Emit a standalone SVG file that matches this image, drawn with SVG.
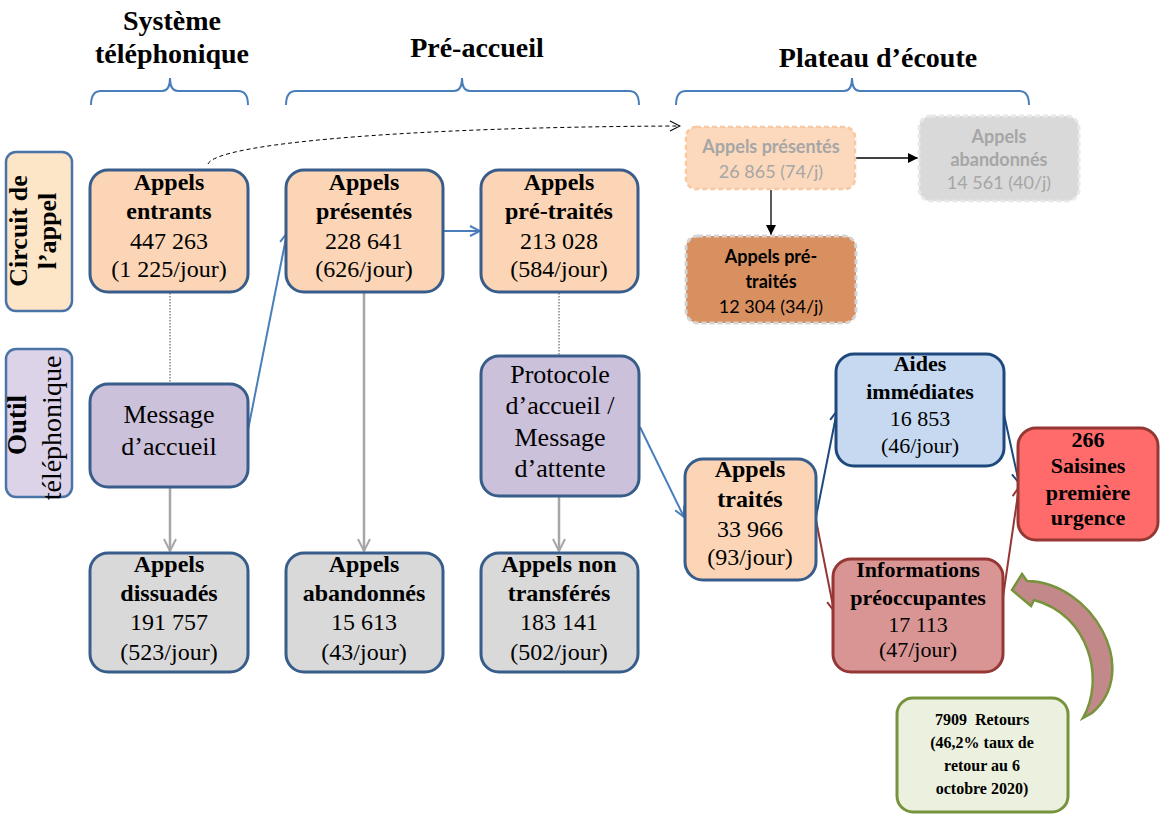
<svg xmlns="http://www.w3.org/2000/svg" width="1160" height="815" viewBox="0 0 1160 815">
<defs>
<style>
.t{font-family:"Liberation Serif","Times New Roman",serif;font-size:24px;text-anchor:middle;fill:#000}
.b{font-weight:bold}
.h{font-family:"Liberation Serif","Times New Roman",serif;font-size:28px;font-weight:bold;text-anchor:middle;fill:#000}
.s{font-family:"Lato","Liberation Sans",Arial,sans-serif;font-size:18px;text-anchor:middle}
.main{stroke:#385d8a;stroke-width:3}
.peach{fill:#fbd5b5}
.lav{fill:#ccc1da}
.gray{fill:#d9d9d9}
.brace{fill:none;stroke:#4a7ebb;stroke-width:2}
</style>
<marker id="aBlue" viewBox="0 0 12 12" refX="11" refY="6" markerWidth="12" markerHeight="12" orient="auto" markerUnits="userSpaceOnUse"><path d="M1,1 L11,6 L1,11" fill="none" stroke="#4a7ebb" stroke-width="2"/></marker>
<marker id="aDark" viewBox="0 0 12 12" refX="11" refY="6" markerWidth="12" markerHeight="12" orient="auto" markerUnits="userSpaceOnUse"><path d="M1,1 L11,6 L1,11" fill="none" stroke="#1f497d" stroke-width="2"/></marker>
<marker id="aRed" viewBox="0 0 12 12" refX="11" refY="6" markerWidth="12" markerHeight="12" orient="auto" markerUnits="userSpaceOnUse"><path d="M1,1 L11,6 L1,11" fill="none" stroke="#953735" stroke-width="2"/></marker>
<marker id="aGray" viewBox="0 0 14 14" refX="13" refY="7" markerWidth="14" markerHeight="14" orient="auto" markerUnits="userSpaceOnUse"><path d="M1,1 L13,7 L1,13" fill="none" stroke="#a6a6a6" stroke-width="2"/></marker>
<marker id="aOpen" viewBox="0 0 12 12" refX="11" refY="6" markerWidth="12" markerHeight="12" orient="auto" markerUnits="userSpaceOnUse"><path d="M1,1 L11,6 L1,11" fill="none" stroke="#000" stroke-width="1"/></marker>
<marker id="aFill" viewBox="0 0 10 10" refX="10" refY="5" markerWidth="10" markerHeight="10" orient="auto" markerUnits="userSpaceOnUse"><path d="M0,0 L10,5 L0,10 z" fill="#000"/></marker>
</defs>
<rect width="1160" height="815" fill="#fff"/>

<g id="headers">
<text class="h" x="172" y="30">Système</text>
<text class="h" x="172" y="63">téléphonique</text>
<path class="brace" d="M91,105 Q91,91 101,91 L162,91 Q170,91 170,78 Q170,91 178,91 L238,91 Q248,91 248,105"/>
<text class="h" x="477" y="57">Pré-accueil</text>
<path class="brace" d="M286,105 Q286,91 296,91 L454,91 Q462,91 462,78 Q462,91 470,91 L629,91 Q639,91 639,105"/>
<text class="h" x="878" y="67">Plateau d’écoute</text>
<path class="brace" d="M676,105 Q676,91 686,91 L844,91 Q852,91 852,78 Q852,91 860,91 L1019,91 Q1029,91 1029,105"/>
</g>

<g id="label-circuit">
<rect x="6" y="152" width="66" height="159" rx="10" fill="#fde5c8" stroke="#4a74a8" stroke-width="2.5"/>
<text class="t b" style="font-size:26px" transform="translate(27,231) rotate(-90)">Circuit de</text>
<text class="t b" style="font-size:26px" transform="translate(56,231) rotate(-90)">l’appel</text>
</g>
<g id="label-outil">
<rect x="6" y="349" width="66" height="148" rx="10" fill="#dcd3e8" stroke="#4a74a8" stroke-width="2.5"/>
<text class="t b" style="font-size:27px" transform="translate(26,425) rotate(-90)">Outil</text>
<text class="t" style="font-size:28px" transform="translate(61,428) rotate(-90)">téléphonique</text>
</g>

<g id="connectors">
<path d="M208,164 C216,144 400,127 680,126" fill="none" stroke="#000" stroke-width="1" stroke-dasharray="4 3" marker-end="url(#aOpen)"/>
<line x1="170" y1="293" x2="170" y2="384" stroke="#444" stroke-width="1" stroke-dasharray="1.5 1.5"/>
<line x1="559" y1="293" x2="559" y2="355" stroke="#444" stroke-width="1" stroke-dasharray="1.5 1.5"/>
<line x1="170" y1="488" x2="170" y2="551" stroke="#a6a6a6" stroke-width="2.5" marker-end="url(#aGray)"/>
<line x1="364" y1="293" x2="364" y2="551" stroke="#a6a6a6" stroke-width="2.5" marker-end="url(#aGray)"/>
<line x1="559" y1="497" x2="559" y2="551" stroke="#a6a6a6" stroke-width="2.5" marker-end="url(#aGray)"/>
<line x1="248" y1="430" x2="287" y2="233" stroke="#4a7ebb" stroke-width="2" marker-end="url(#aBlue)"/>
<line x1="444" y1="231" x2="480" y2="231" stroke="#4a7ebb" stroke-width="2" marker-end="url(#aBlue)"/>
<line x1="640" y1="427" x2="684" y2="517" stroke="#4a7ebb" stroke-width="2" marker-end="url(#aBlue)"/>
<line x1="816" y1="517" x2="837" y2="411" stroke="#1f497d" stroke-width="2" marker-end="url(#aDark)"/>
<line x1="1003" y1="410" x2="1019" y2="483" stroke="#1f497d" stroke-width="2" marker-end="url(#aDark)"/>
<line x1="816" y1="520" x2="834" y2="611" stroke="#953735" stroke-width="2" marker-end="url(#aRed)"/>
<line x1="1003" y1="597" x2="1019" y2="487" stroke="#953735" stroke-width="2" marker-end="url(#aRed)"/>
<line x1="856" y1="158" x2="918" y2="158" stroke="#000" stroke-width="1.3" marker-end="url(#aFill)"/>
<line x1="771" y1="190" x2="771" y2="235" stroke="#000" stroke-width="1.3" marker-end="url(#aFill)"/>
<path d="M1083,718 C1105,680 1090,615 1034,600 L1031,606 L1012,590 L1022,574 L1027,581 C1092,582 1142,670 1092,713 Z" fill="#c3898a" stroke="#77933c" stroke-width="2.5" stroke-linejoin="miter"/>
</g>

<g id="appels-entrants">
<rect class="main peach" x="90" y="170" width="158" height="122" rx="18"/>
<text class="t b" x="169" y="190">Appels</text>
<text class="t b" x="169" y="219">entrants</text>
<text class="t" x="169" y="249">447 263</text>
<text class="t" x="169" y="277">(1 225/jour)</text>
</g>
<g id="appels-presentes">
<rect class="main peach" x="286" y="170" width="157" height="122" rx="18"/>
<text class="t b" x="364" y="190">Appels</text>
<text class="t b" x="364" y="219">présentés</text>
<text class="t" x="364" y="249">228 641</text>
<text class="t" x="364" y="277">(626/jour)</text>
</g>
<g id="appels-pretraites">
<rect class="main peach" x="481" y="170" width="157" height="122" rx="18"/>
<text class="t b" x="559" y="190">Appels</text>
<text class="t b" x="559" y="219">pré-traités</text>
<text class="t" x="559" y="249">213 028</text>
<text class="t" x="559" y="277">(584/jour)</text>
</g>

<g id="message-accueil">
<rect class="main lav" x="90" y="384" width="158" height="103" rx="18"/>
<text class="t" style="font-size:26px" x="169" y="423">Message</text>
<text class="t" style="font-size:26px" x="169" y="455">d’accueil</text>
</g>
<g id="protocole">
<rect class="main lav" x="481" y="356" width="158" height="140" rx="18"/>
<text class="t" style="font-size:26px" x="560" y="383">Protocole</text>
<text class="t" style="font-size:26px" x="560" y="414">d’accueil /</text>
<text class="t" style="font-size:26px" x="560" y="446">Message</text>
<text class="t" style="font-size:26px" x="560" y="477">d’attente</text>
</g>

<g id="appels-dissuades">
<rect class="main gray" x="90" y="553" width="158" height="119" rx="18"/>
<text class="t b" x="169" y="572">Appels</text>
<text class="t b" x="169" y="601">dissuadés</text>
<text class="t" x="169" y="630">191 757</text>
<text class="t" x="169" y="660">(523/jour)</text>
</g>
<g id="appels-abandonnes">
<rect class="main gray" x="286" y="553" width="157" height="119" rx="18"/>
<text class="t b" x="364" y="572">Appels</text>
<text class="t b" x="364" y="601">abandonnés</text>
<text class="t" x="364" y="630">15 613</text>
<text class="t" x="364" y="660">(43/jour)</text>
</g>
<g id="appels-non-transferes">
<rect class="main gray" x="481" y="553" width="157" height="119" rx="18"/>
<text class="t b" x="559" y="572">Appels non</text>
<text class="t b" x="559" y="601">transférés</text>
<text class="t" x="559" y="630">183 141</text>
<text class="t" x="559" y="660">(502/jour)</text>
</g>

<g id="plateau-presentes">
<rect x="686" y="127" width="169" height="62" rx="10" fill="#fcd9bc" stroke="#f7c9a2" stroke-width="2.5" stroke-dasharray="5 3"/>
<text class="s b" x="771" y="153" fill="#a6a6a6">Appels présentés</text>
<text class="s" x="771" y="178" fill="#a6a6a6">26 865 (74/j)</text>
</g>
<g id="plateau-abandonnes">
<rect x="919" y="116" width="160" height="85" rx="12" fill="#d9d9d9" stroke="#e8e8e8" stroke-width="3" stroke-dasharray="5 3"/>
<text class="s b" x="999" y="143" fill="#a6a6a6">Appels</text>
<text class="s b" x="999" y="166" fill="#a6a6a6">abandonnés</text>
<text class="s" x="999" y="189" fill="#a6a6a6">14 561 (40/j)</text>
</g>
<g id="plateau-pretraites">
<rect x="686" y="236" width="170" height="87" rx="12" fill="#d99060" stroke="#d4d4d4" stroke-width="3" stroke-dasharray="5 3"/>
<text class="s b" x="771" y="263" fill="#000">Appels pré-</text>
<text class="s b" x="771" y="288" fill="#000">traités</text>
<text class="s" x="771" y="313" fill="#000">12 304 (34/j)</text>
</g>

<g id="appels-traites">
<rect class="main peach" x="685" y="459" width="131" height="121" rx="18"/>
<text class="t b" x="750" y="477">Appels</text>
<text class="t b" x="750" y="507">traités</text>
<text class="t" x="750" y="537">33 966</text>
<text class="t" x="750" y="565">(93/jour)</text>
</g>
<g id="aides-immediates">
<rect x="836" y="354" width="168" height="112" rx="18" fill="#c6d9f1" stroke="#1f497d" stroke-width="3"/>
<text class="t b" style="font-size:22px" x="920" y="371">Aides</text>
<text class="t b" style="font-size:22px" x="920" y="399">immédiates</text>
<text class="t" style="font-size:22px" x="920" y="426">16 853</text>
<text class="t" style="font-size:22px" x="920" y="453">(46/jour)</text>
</g>
<g id="saisines">
<rect x="1018" y="428" width="140" height="112" rx="18" fill="#ff6b6b" stroke="#953735" stroke-width="3"/>
<text class="t b" style="font-size:22px" x="1088" y="447">266</text>
<text class="t b" style="font-size:22px" x="1088" y="473">Saisines</text>
<text class="t b" style="font-size:22px" x="1088" y="500">première</text>
<text class="t b" style="font-size:22px" x="1088" y="525">urgence</text>
</g>
<g id="informations-preoccupantes">
<rect x="833" y="559" width="170" height="113" rx="18" fill="#d99594" stroke="#953735" stroke-width="3"/>
<text class="t b" style="font-size:22px" x="918" y="577">Informations</text>
<text class="t b" style="font-size:22px" x="918" y="605">préoccupantes</text>
<text class="t" style="font-size:22px" x="918" y="632">17 113</text>
<text class="t" style="font-size:22px" x="918" y="657">(47/jour)</text>
</g>
<g id="retours">
<rect x="897" y="698" width="171" height="114" rx="16" fill="#ebf1de" stroke="#77933c" stroke-width="3"/>
<text class="t b" style="font-size:16px" x="982" y="725">7909&#160; Retours</text>
<text class="t b" style="font-size:16px" x="982" y="748">(46,2% taux de</text>
<text class="t b" style="font-size:16px" x="982" y="771">retour au 6</text>
<text class="t b" style="font-size:16px" x="982" y="794">octobre 2020)</text>
</g>
</svg>
